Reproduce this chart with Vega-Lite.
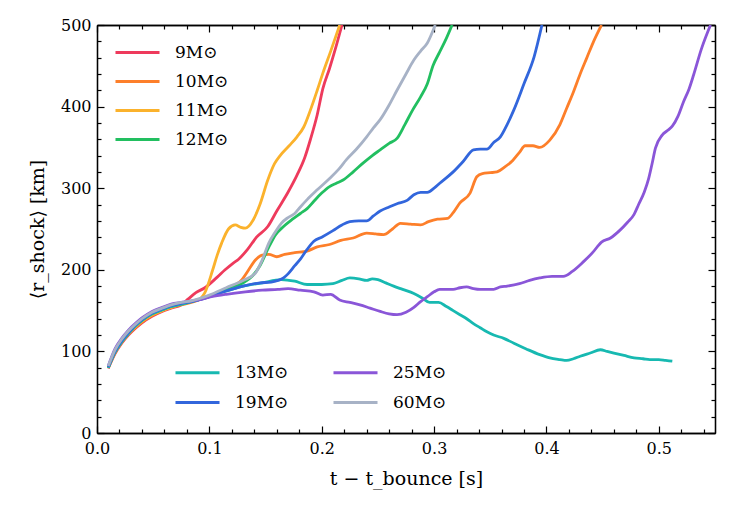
{
"$schema": "https://vega.github.io/schema/vega-lite/v6.json",
"width": 618, "height": 408,
"autosize": {"type": "none"},
"padding": {"left": 97, "top": 25, "right": 35, "bottom": 77},
"background": "white",
"config": {
  "view": {"stroke": null},
  "font": "DejaVu Serif",
  "axis": {"grid": false, "domainColor": "black", "domainWidth": 1.3, "tickColor": "black", "tickWidth": 1.2,
    "labelFont": "DejaVu Serif", "labelFontSize": 16, "labelColor": "black", "labelFlush": false, "labelOverlap": false,
    "titleFont": "DejaVu Serif", "titleFontSize": 19, "titleFontWeight": "normal", "titleColor": "black"},
  "legend": {"labelFont": "DejaVu Serif", "labelFontSize": 17, "labelColor": "black", "title": null,
    "symbolType": "M-2.5,0H2.5", "symbolSize": 310, "symbolStrokeWidth": 3, "symbolFillColor": "transparent", "labelOffset": 27, "padding": 0}
},
"datasets": {"d": [
{"s":"9M⊙","t":0.01,"r":79},{"s":"9M⊙","t":0.016,"r":97},{"s":"9M⊙","t":0.022,"r":110},{"s":"9M⊙","t":0.028,"r":120},{"s":"9M⊙","t":0.034,"r":128},{"s":"9M⊙","t":0.04,"r":135},{"s":"9M⊙","t":0.049,"r":143},{"s":"9M⊙","t":0.058,"r":149},{"s":"9M⊙","t":0.066,"r":153},{"s":"9M⊙","t":0.075,"r":157},{"s":"9M⊙","t":0.081,"r":164},{"s":"9M⊙","t":0.088,"r":172},{"s":"9M⊙","t":0.096,"r":178},{"s":"9M⊙","t":0.107,"r":191},{"s":"9M⊙","t":0.114,"r":200},{"s":"9M⊙","t":0.121,"r":208},{"s":"9M⊙","t":0.126,"r":213},{"s":"9M⊙","t":0.134,"r":225},{"s":"9M⊙","t":0.142,"r":240},{"s":"9M⊙","t":0.152,"r":253},{"s":"9M⊙","t":0.16,"r":272},{"s":"9M⊙","t":0.17,"r":295},{"s":"9M⊙","t":0.178,"r":316},{"s":"9M⊙","t":0.185,"r":338},{"s":"9M⊙","t":0.19,"r":360},{"s":"9M⊙","t":0.196,"r":390},{"s":"9M⊙","t":0.201,"r":422},{"s":"9M⊙","t":0.207,"r":447},{"s":"9M⊙","t":0.212,"r":470},{"s":"9M⊙","t":0.218,"r":500},
{"s":"10M⊙","t":0.01,"r":80},{"s":"10M⊙","t":0.016,"r":98},{"s":"10M⊙","t":0.022,"r":111},{"s":"10M⊙","t":0.028,"r":121},{"s":"10M⊙","t":0.034,"r":129},{"s":"10M⊙","t":0.04,"r":136},{"s":"10M⊙","t":0.049,"r":144},{"s":"10M⊙","t":0.058,"r":150},{"s":"10M⊙","t":0.066,"r":154},{"s":"10M⊙","t":0.075,"r":157},{"s":"10M⊙","t":0.084,"r":160},{"s":"10M⊙","t":0.1,"r":168},{"s":"10M⊙","t":0.115,"r":177},{"s":"10M⊙","t":0.129,"r":188},{"s":"10M⊙","t":0.135,"r":200},{"s":"10M⊙","t":0.141,"r":212},{"s":"10M⊙","t":0.147,"r":218},{"s":"10M⊙","t":0.153,"r":219},{"s":"10M⊙","t":0.16,"r":216},{"s":"10M⊙","t":0.167,"r":219},{"s":"10M⊙","t":0.176,"r":221},{"s":"10M⊙","t":0.187,"r":223},{"s":"10M⊙","t":0.196,"r":228},{"s":"10M⊙","t":0.207,"r":231},{"s":"10M⊙","t":0.217,"r":236},{"s":"10M⊙","t":0.228,"r":239},{"s":"10M⊙","t":0.24,"r":245},{"s":"10M⊙","t":0.248,"r":244},{"s":"10M⊙","t":0.255,"r":243},{"s":"10M⊙","t":0.263,"r":250},{"s":"10M⊙","t":0.27,"r":257},{"s":"10M⊙","t":0.279,"r":256},{"s":"10M⊙","t":0.288,"r":255},{"s":"10M⊙","t":0.295,"r":259},{"s":"10M⊙","t":0.303,"r":262},{"s":"10M⊙","t":0.312,"r":263},{"s":"10M⊙","t":0.318,"r":272},{"s":"10M⊙","t":0.323,"r":282},{"s":"10M⊙","t":0.332,"r":294},{"s":"10M⊙","t":0.338,"r":314},{"s":"10M⊙","t":0.343,"r":318},{"s":"10M⊙","t":0.35,"r":319},{"s":"10M⊙","t":0.356,"r":320},{"s":"10M⊙","t":0.363,"r":326},{"s":"10M⊙","t":0.37,"r":334},{"s":"10M⊙","t":0.376,"r":344},{"s":"10M⊙","t":0.381,"r":352},{"s":"10M⊙","t":0.388,"r":352},{"s":"10M⊙","t":0.394,"r":350},{"s":"10M⊙","t":0.403,"r":359},{"s":"10M⊙","t":0.412,"r":378},{"s":"10M⊙","t":0.418,"r":398},{"s":"10M⊙","t":0.424,"r":418},{"s":"10M⊙","t":0.43,"r":440},{"s":"10M⊙","t":0.436,"r":460},{"s":"10M⊙","t":0.442,"r":480},{"s":"10M⊙","t":0.449,"r":500},
{"s":"11M⊙","t":0.01,"r":80},{"s":"11M⊙","t":0.016,"r":99},{"s":"11M⊙","t":0.022,"r":112},{"s":"11M⊙","t":0.028,"r":122},{"s":"11M⊙","t":0.034,"r":130},{"s":"11M⊙","t":0.04,"r":137},{"s":"11M⊙","t":0.049,"r":145},{"s":"11M⊙","t":0.058,"r":150},{"s":"11M⊙","t":0.066,"r":154},{"s":"11M⊙","t":0.075,"r":158},{"s":"11M⊙","t":0.084,"r":161},{"s":"11M⊙","t":0.09,"r":163},{"s":"11M⊙","t":0.096,"r":172},{"s":"11M⊙","t":0.103,"r":200},{"s":"11M⊙","t":0.107,"r":218},{"s":"11M⊙","t":0.111,"r":233},{"s":"11M⊙","t":0.117,"r":250},{"s":"11M⊙","t":0.123,"r":255},{"s":"11M⊙","t":0.128,"r":252},{"s":"11M⊙","t":0.132,"r":251},{"s":"11M⊙","t":0.139,"r":261},{"s":"11M⊙","t":0.145,"r":280},{"s":"11M⊙","t":0.152,"r":310},{"s":"11M⊙","t":0.158,"r":330},{"s":"11M⊙","t":0.163,"r":340},{"s":"11M⊙","t":0.171,"r":352},{"s":"11M⊙","t":0.178,"r":363},{"s":"11M⊙","t":0.184,"r":375},{"s":"11M⊙","t":0.19,"r":396},{"s":"11M⊙","t":0.196,"r":420},{"s":"11M⊙","t":0.201,"r":441},{"s":"11M⊙","t":0.208,"r":468},{"s":"11M⊙","t":0.216,"r":500},
{"s":"12M⊙","t":0.01,"r":80},{"s":"12M⊙","t":0.016,"r":99},{"s":"12M⊙","t":0.022,"r":112},{"s":"12M⊙","t":0.028,"r":122},{"s":"12M⊙","t":0.034,"r":131},{"s":"12M⊙","t":0.04,"r":138},{"s":"12M⊙","t":0.049,"r":146},{"s":"12M⊙","t":0.058,"r":151},{"s":"12M⊙","t":0.066,"r":155},{"s":"12M⊙","t":0.075,"r":158},{"s":"12M⊙","t":0.084,"r":161},{"s":"12M⊙","t":0.1,"r":168},{"s":"12M⊙","t":0.115,"r":176},{"s":"12M⊙","t":0.13,"r":184},{"s":"12M⊙","t":0.138,"r":192},{"s":"12M⊙","t":0.145,"r":205},{"s":"12M⊙","t":0.153,"r":228},{"s":"12M⊙","t":0.159,"r":243},{"s":"12M⊙","t":0.166,"r":253},{"s":"12M⊙","t":0.174,"r":262},{"s":"12M⊙","t":0.181,"r":269},{"s":"12M⊙","t":0.187,"r":275},{"s":"12M⊙","t":0.193,"r":284},{"s":"12M⊙","t":0.2,"r":294},{"s":"12M⊙","t":0.207,"r":302},{"s":"12M⊙","t":0.213,"r":306},{"s":"12M⊙","t":0.219,"r":310},{"s":"12M⊙","t":0.228,"r":320},{"s":"12M⊙","t":0.237,"r":331},{"s":"12M⊙","t":0.245,"r":340},{"s":"12M⊙","t":0.252,"r":347},{"s":"12M⊙","t":0.26,"r":355},{"s":"12M⊙","t":0.267,"r":361},{"s":"12M⊙","t":0.274,"r":378},{"s":"12M⊙","t":0.281,"r":396},{"s":"12M⊙","t":0.288,"r":412},{"s":"12M⊙","t":0.294,"r":428},{"s":"12M⊙","t":0.299,"r":450},{"s":"12M⊙","t":0.305,"r":467},{"s":"12M⊙","t":0.311,"r":484},{"s":"12M⊙","t":0.316,"r":500},
{"s":"13M⊙","t":0.01,"r":80},{"s":"13M⊙","t":0.016,"r":99},{"s":"13M⊙","t":0.022,"r":112},{"s":"13M⊙","t":0.028,"r":122},{"s":"13M⊙","t":0.034,"r":131},{"s":"13M⊙","t":0.04,"r":138},{"s":"13M⊙","t":0.049,"r":146},{"s":"13M⊙","t":0.058,"r":151},{"s":"13M⊙","t":0.066,"r":155},{"s":"13M⊙","t":0.075,"r":158},{"s":"13M⊙","t":0.084,"r":161},{"s":"13M⊙","t":0.1,"r":167},{"s":"13M⊙","t":0.115,"r":174},{"s":"13M⊙","t":0.13,"r":180},{"s":"13M⊙","t":0.147,"r":184},{"s":"13M⊙","t":0.164,"r":188},{"s":"13M⊙","t":0.176,"r":186},{"s":"13M⊙","t":0.187,"r":182},{"s":"13M⊙","t":0.2,"r":182},{"s":"13M⊙","t":0.21,"r":183},{"s":"13M⊙","t":0.218,"r":187},{"s":"13M⊙","t":0.225,"r":190},{"s":"13M⊙","t":0.233,"r":189},{"s":"13M⊙","t":0.24,"r":187},{"s":"13M⊙","t":0.245,"r":189},{"s":"13M⊙","t":0.25,"r":188},{"s":"13M⊙","t":0.257,"r":184},{"s":"13M⊙","t":0.264,"r":180},{"s":"13M⊙","t":0.272,"r":176},{"s":"13M⊙","t":0.282,"r":171},{"s":"13M⊙","t":0.29,"r":165},{"s":"13M⊙","t":0.296,"r":160},{"s":"13M⊙","t":0.304,"r":160},{"s":"13M⊙","t":0.311,"r":155},{"s":"13M⊙","t":0.317,"r":150},{"s":"13M⊙","t":0.323,"r":145},{"s":"13M⊙","t":0.329,"r":140},{"s":"13M⊙","t":0.335,"r":134},{"s":"13M⊙","t":0.341,"r":129},{"s":"13M⊙","t":0.347,"r":124},{"s":"13M⊙","t":0.353,"r":120},{"s":"13M⊙","t":0.362,"r":116},{"s":"13M⊙","t":0.371,"r":110},{"s":"13M⊙","t":0.382,"r":103},{"s":"13M⊙","t":0.394,"r":96},{"s":"13M⊙","t":0.403,"r":92},{"s":"13M⊙","t":0.412,"r":90},{"s":"13M⊙","t":0.418,"r":89},{"s":"13M⊙","t":0.424,"r":91},{"s":"13M⊙","t":0.43,"r":94},{"s":"13M⊙","t":0.439,"r":98},{"s":"13M⊙","t":0.448,"r":102},{"s":"13M⊙","t":0.454,"r":100},{"s":"13M⊙","t":0.46,"r":98},{"s":"13M⊙","t":0.469,"r":95},{"s":"13M⊙","t":0.478,"r":92},{"s":"13M⊙","t":0.486,"r":91},{"s":"13M⊙","t":0.492,"r":90},{"s":"13M⊙","t":0.5,"r":90},{"s":"13M⊙","t":0.506,"r":89},{"s":"13M⊙","t":0.512,"r":88},
{"s":"19M⊙","t":0.01,"r":81},{"s":"19M⊙","t":0.016,"r":100},{"s":"19M⊙","t":0.022,"r":113},{"s":"19M⊙","t":0.028,"r":123},{"s":"19M⊙","t":0.034,"r":132},{"s":"19M⊙","t":0.04,"r":139},{"s":"19M⊙","t":0.049,"r":147},{"s":"19M⊙","t":0.058,"r":152},{"s":"19M⊙","t":0.066,"r":156},{"s":"19M⊙","t":0.075,"r":159},{"s":"19M⊙","t":0.084,"r":161},{"s":"19M⊙","t":0.1,"r":167},{"s":"19M⊙","t":0.115,"r":174},{"s":"19M⊙","t":0.13,"r":180},{"s":"19M⊙","t":0.145,"r":184},{"s":"19M⊙","t":0.155,"r":185},{"s":"19M⊙","t":0.161,"r":187},{"s":"19M⊙","t":0.166,"r":190},{"s":"19M⊙","t":0.17,"r":195},{"s":"19M⊙","t":0.176,"r":205},{"s":"19M⊙","t":0.181,"r":213},{"s":"19M⊙","t":0.187,"r":225},{"s":"19M⊙","t":0.193,"r":235},{"s":"19M⊙","t":0.2,"r":240},{"s":"19M⊙","t":0.21,"r":248},{"s":"19M⊙","t":0.218,"r":255},{"s":"19M⊙","t":0.225,"r":259},{"s":"19M⊙","t":0.233,"r":260},{"s":"19M⊙","t":0.24,"r":260},{"s":"19M⊙","t":0.246,"r":266},{"s":"19M⊙","t":0.252,"r":272},{"s":"19M⊙","t":0.26,"r":277},{"s":"19M⊙","t":0.267,"r":281},{"s":"19M⊙","t":0.276,"r":285},{"s":"19M⊙","t":0.282,"r":292},{"s":"19M⊙","t":0.288,"r":295},{"s":"19M⊙","t":0.294,"r":295},{"s":"19M⊙","t":0.3,"r":300},{"s":"19M⊙","t":0.305,"r":306},{"s":"19M⊙","t":0.317,"r":320},{"s":"19M⊙","t":0.326,"r":333},{"s":"19M⊙","t":0.335,"r":347},{"s":"19M⊙","t":0.341,"r":348},{"s":"19M⊙","t":0.347,"r":348},{"s":"19M⊙","t":0.353,"r":356},{"s":"19M⊙","t":0.359,"r":363},{"s":"19M⊙","t":0.365,"r":378},{"s":"19M⊙","t":0.371,"r":396},{"s":"19M⊙","t":0.38,"r":428},{"s":"19M⊙","t":0.389,"r":461},{"s":"19M⊙","t":0.396,"r":500},
{"s":"25M⊙","t":0.01,"r":82},{"s":"25M⊙","t":0.016,"r":103},{"s":"25M⊙","t":0.022,"r":116},{"s":"25M⊙","t":0.028,"r":126},{"s":"25M⊙","t":0.034,"r":134},{"s":"25M⊙","t":0.04,"r":141},{"s":"25M⊙","t":0.049,"r":149},{"s":"25M⊙","t":0.058,"r":154},{"s":"25M⊙","t":0.066,"r":158},{"s":"25M⊙","t":0.075,"r":160},{"s":"25M⊙","t":0.084,"r":162},{"s":"25M⊙","t":0.09,"r":163},{"s":"25M⊙","t":0.102,"r":167},{"s":"25M⊙","t":0.115,"r":170},{"s":"25M⊙","t":0.132,"r":173},{"s":"25M⊙","t":0.147,"r":175},{"s":"25M⊙","t":0.161,"r":176},{"s":"25M⊙","t":0.17,"r":177},{"s":"25M⊙","t":0.181,"r":175},{"s":"25M⊙","t":0.193,"r":173},{"s":"25M⊙","t":0.201,"r":169},{"s":"25M⊙","t":0.208,"r":170},{"s":"25M⊙","t":0.216,"r":163},{"s":"25M⊙","t":0.225,"r":160},{"s":"25M⊙","t":0.234,"r":157},{"s":"25M⊙","t":0.243,"r":153},{"s":"25M⊙","t":0.252,"r":149},{"s":"25M⊙","t":0.26,"r":146},{"s":"25M⊙","t":0.267,"r":145},{"s":"25M⊙","t":0.275,"r":148},{"s":"25M⊙","t":0.282,"r":154},{"s":"25M⊙","t":0.288,"r":161},{"s":"25M⊙","t":0.294,"r":167},{"s":"25M⊙","t":0.3,"r":173},{"s":"25M⊙","t":0.305,"r":176},{"s":"25M⊙","t":0.311,"r":176},{"s":"25M⊙","t":0.317,"r":176},{"s":"25M⊙","t":0.323,"r":178},{"s":"25M⊙","t":0.329,"r":179},{"s":"25M⊙","t":0.335,"r":177},{"s":"25M⊙","t":0.341,"r":176},{"s":"25M⊙","t":0.353,"r":176},{"s":"25M⊙","t":0.359,"r":179},{"s":"25M⊙","t":0.365,"r":180},{"s":"25M⊙","t":0.376,"r":183},{"s":"25M⊙","t":0.385,"r":187},{"s":"25M⊙","t":0.394,"r":190},{"s":"25M⊙","t":0.405,"r":192},{"s":"25M⊙","t":0.415,"r":192},{"s":"25M⊙","t":0.423,"r":198},{"s":"25M⊙","t":0.433,"r":210},{"s":"25M⊙","t":0.441,"r":221},{"s":"25M⊙","t":0.449,"r":234},{"s":"25M⊙","t":0.457,"r":239},{"s":"25M⊙","t":0.465,"r":248},{"s":"25M⊙","t":0.472,"r":258},{"s":"25M⊙","t":0.478,"r":268},{"s":"25M⊙","t":0.482,"r":280},{"s":"25M⊙","t":0.487,"r":295},{"s":"25M⊙","t":0.491,"r":312},{"s":"25M⊙","t":0.494,"r":330},{"s":"25M⊙","t":0.497,"r":349},{"s":"25M⊙","t":0.503,"r":365},{"s":"25M⊙","t":0.508,"r":371},{"s":"25M⊙","t":0.512,"r":376},{"s":"25M⊙","t":0.517,"r":388},{"s":"25M⊙","t":0.522,"r":406},{"s":"25M⊙","t":0.527,"r":422},{"s":"25M⊙","t":0.531,"r":439},{"s":"25M⊙","t":0.538,"r":471},{"s":"25M⊙","t":0.546,"r":500},
{"s":"60M⊙","t":0.01,"r":82},{"s":"60M⊙","t":0.016,"r":102},{"s":"60M⊙","t":0.022,"r":115},{"s":"60M⊙","t":0.028,"r":125},{"s":"60M⊙","t":0.034,"r":133},{"s":"60M⊙","t":0.04,"r":140},{"s":"60M⊙","t":0.049,"r":148},{"s":"60M⊙","t":0.058,"r":153},{"s":"60M⊙","t":0.066,"r":157},{"s":"60M⊙","t":0.075,"r":160},{"s":"60M⊙","t":0.084,"r":162},{"s":"60M⊙","t":0.1,"r":169},{"s":"60M⊙","t":0.115,"r":178},{"s":"60M⊙","t":0.13,"r":187},{"s":"60M⊙","t":0.141,"r":196},{"s":"60M⊙","t":0.147,"r":212},{"s":"60M⊙","t":0.153,"r":233},{"s":"60M⊙","t":0.159,"r":247},{"s":"60M⊙","t":0.164,"r":257},{"s":"60M⊙","t":0.17,"r":264},{"s":"60M⊙","t":0.176,"r":269},{"s":"60M⊙","t":0.181,"r":277},{"s":"60M⊙","t":0.187,"r":286},{"s":"60M⊙","t":0.196,"r":298},{"s":"60M⊙","t":0.207,"r":312},{"s":"60M⊙","t":0.215,"r":323},{"s":"60M⊙","t":0.222,"r":335},{"s":"60M⊙","t":0.231,"r":348},{"s":"60M⊙","t":0.24,"r":363},{"s":"60M⊙","t":0.246,"r":374},{"s":"60M⊙","t":0.252,"r":384},{"s":"60M⊙","t":0.26,"r":402},{"s":"60M⊙","t":0.267,"r":420},{"s":"60M⊙","t":0.275,"r":440},{"s":"60M⊙","t":0.282,"r":457},{"s":"60M⊙","t":0.288,"r":468},{"s":"60M⊙","t":0.294,"r":478},{"s":"60M⊙","t":0.301,"r":500}
]},
"data": {"name": "d"},
"layer": [
 {
  "mark": {"type": "line", "opacity": 0},
  "encoding": {
    "detail": {"field": "s"},
    "x": {"field": "t", "type": "quantitative", "scale": {"domain": [0, 0.55], "nice": false, "zero": false}, "title": null,
      "axis": {"orient": "bottom", "values": [0.02,0.04,0.06,0.08,0.12,0.14,0.16,0.18,0.22,0.24,0.26,0.28,0.32,0.34,0.36,0.38,0.42,0.44,0.46,0.48,0.52,0.54], "labels": false, "tickSize": -4}},
    "y": {"field": "r", "type": "quantitative", "scale": {"domain": [0, 500], "nice": false, "zero": true}, "title": null,
      "axis": {"orient": "left", "values": [20,40,60,80,120,140,160,180,220,240,260,280,320,340,360,380,420,440,460,480], "labels": false, "tickSize": -4}}
  }
 },
 {
  "mark": {"type": "line", "opacity": 0},
  "encoding": {
    "detail": {"field": "s"},
    "x": {"field": "t", "type": "quantitative", "scale": {"domain": [0, 0.55], "nice": false, "zero": false}, "title": null,
      "axis": {"orient": "top", "values": [0.02,0.04,0.06,0.08,0.12,0.14,0.16,0.18,0.22,0.24,0.26,0.28,0.32,0.34,0.36,0.38,0.42,0.44,0.46,0.48,0.52,0.54], "labels": false, "tickSize": -4}},
    "y": {"field": "r", "type": "quantitative", "scale": {"domain": [0, 500], "nice": false, "zero": true}, "title": null,
      "axis": {"orient": "right", "values": [20,40,60,80,120,140,160,180,220,240,260,280,320,340,360,380,420,440,460,480], "labels": false, "tickSize": -4}}
  }
 },
 {
  "transform": [{"filter": {"field": "s", "oneOf": ["9M⊙", "10M⊙", "11M⊙", "12M⊙"]}}],
  "mark": {"type": "line", "strokeWidth": 2.8, "interpolate": "monotone", "clip": true},
  "encoding": {
    "x": {"field": "t", "type": "quantitative", "scale": {"domain": [0, 0.55], "nice": false, "zero": false},
      "title": "t − t_bounce [s]",
      "axis": {"orient": "bottom", "values": [0,0.1,0.2,0.3,0.4,0.5], "format": ".1f", "tickSize": -7, "labelPadding": 14, "titlePadding": 13}},
    "y": {"field": "r", "type": "quantitative", "scale": {"domain": [0, 500], "nice": false, "zero": true},
      "title": "⟨r_shock⟩ [km]",
      "axis": {"orient": "left", "values": [0,100,200,300,400,500], "tickSize": -7, "labelPadding": 13, "titlePadding": 13}},
    "color": {"field": "s", "type": "nominal", "sort": ["9M⊙", "10M⊙", "11M⊙", "12M⊙"],
      "scale": {"domain": ["9M⊙", "10M⊙", "11M⊙", "12M⊙"], "range": ["#ee3a5c", "#fd7f2a", "#fbb22c", "#22bf60"]},
      "legend": {"orient": "none", "legendX": 30, "legendY": 17, "direction": "vertical", "rowPadding": 10}}
  }
 },
 {
  "transform": [{"filter": {"field": "s", "oneOf": ["13M⊙", "19M⊙", "25M⊙", "60M⊙"]}}],
  "mark": {"type": "line", "strokeWidth": 2.8, "interpolate": "monotone", "clip": true},
  "encoding": {
    "x": {"field": "t", "type": "quantitative", "scale": {"domain": [0, 0.55], "nice": false, "zero": false},
      "title": null,
      "axis": {"orient": "top", "values": [0,0.1,0.2,0.3,0.4,0.5], "labels": false, "tickSize": -7}},
    "y": {"field": "r", "type": "quantitative", "scale": {"domain": [0, 500], "nice": false, "zero": true},
      "title": null,
      "axis": {"orient": "right", "values": [0,100,200,300,400,500], "labels": false, "tickSize": -7}},
    "color": {"field": "s", "type": "nominal", "sort": ["13M⊙", "25M⊙", "19M⊙", "60M⊙"],
      "scale": {"domain": ["13M⊙", "25M⊙", "19M⊙", "60M⊙"], "range": ["#17b9b1", "#8a56d8", "#3266dc", "#a7b2c6"]},
      "legend": {"orient": "none", "legendX": 90, "legendY": 337, "direction": "horizontal", "columns": 2, "columnPadding": 38, "rowPadding": 11}}
  }
 }
],
"resolve": {"scale": {"color": "independent"}, "axis": {"x": "independent", "y": "independent"}}
}
